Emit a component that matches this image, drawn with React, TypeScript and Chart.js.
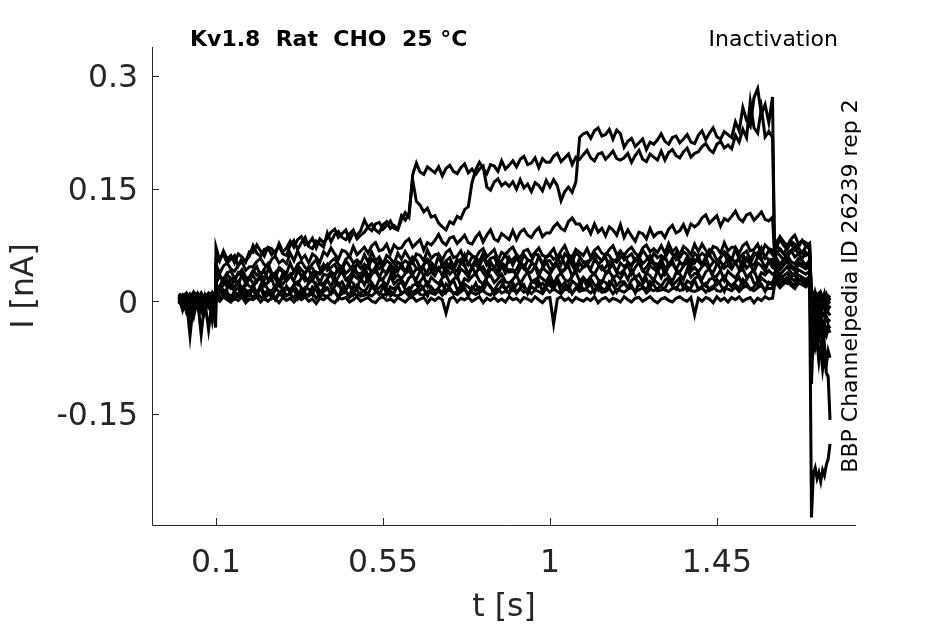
import { useEffect, useRef } from "react"
import Chart from "chart.js/auto"

// sample times [s]
const timeS = [
  0, 0.01, 0.02, 0.03, 0.04, 0.05, 0.06, 0.07, 0.08, 0.09, 0.099,
  0.1, 0.11, 0.12, 0.13, 0.14, 0.15, 0.16, 0.17, 0.18, 0.19,
  0.2, 0.21, 0.22, 0.23, 0.24, 0.25, 0.26, 0.27, 0.28, 0.29,
  0.3, 0.31, 0.32, 0.33, 0.34, 0.35, 0.36, 0.37, 0.38, 0.39,
  0.4, 0.41, 0.42, 0.43, 0.44, 0.45, 0.46, 0.47, 0.48, 0.49,
  0.5, 0.51, 0.52, 0.53, 0.54, 0.55, 0.56, 0.57, 0.58, 0.59,
  0.6, 0.61, 0.62, 0.63, 0.64, 0.65, 0.66, 0.67, 0.68, 0.69,
  0.7, 0.71, 0.72, 0.73, 0.74, 0.75, 0.76, 0.77, 0.78, 0.79,
  0.8, 0.81, 0.82, 0.83, 0.84, 0.85, 0.86, 0.87, 0.88, 0.89,
  0.9, 0.91, 0.92, 0.93, 0.94, 0.95, 0.96, 0.97, 0.98, 0.99,
  1.0, 1.01, 1.02, 1.03, 1.04, 1.05, 1.06, 1.07, 1.08, 1.09,
  1.1, 1.11, 1.12, 1.13, 1.14, 1.15, 1.16, 1.17, 1.18, 1.19,
  1.2, 1.21, 1.22, 1.23, 1.24, 1.25, 1.26, 1.27, 1.28, 1.29,
  1.3, 1.31, 1.32, 1.33, 1.34, 1.35, 1.36, 1.37, 1.38, 1.39,
  1.4, 1.41, 1.42, 1.43, 1.44, 1.45, 1.46, 1.47, 1.48, 1.49,
  1.5, 1.51, 1.52, 1.53, 1.54, 1.55, 1.56, 1.57, 1.58, 1.59,
  1.6,
  1.605, 1.61, 1.62, 1.63, 1.64, 1.65, 1.66, 1.67, 1.68, 1.69, 1.7,
  1.705, 1.71, 1.715, 1.72, 1.725, 1.73, 1.735, 1.74, 1.745, 1.75, 1.755,
]

// current traces [nA], one per sweep
const traceA = [
  0.010, 0.006, 0.011, 0.004, 0.012, 0.007, 0.010, 0.005, 0.011, 0.008, 0.009,
  0.072, 0.054, 0.067, 0.056, 0.061, 0.051, 0.063, 0.059, 0.052, 0.066,
  0.065, 0.075, 0.067, 0.060, 0.072, 0.070, 0.063, 0.077, 0.066, 0.071,
  0.080, 0.072, 0.082, 0.086, 0.075, 0.077, 0.084, 0.071, 0.083, 0.078,
  0.084, 0.092, 0.096, 0.085, 0.090, 0.095, 0.081, 0.091, 0.088, 0.094,
  0.108, 0.098, 0.094, 0.103, 0.105, 0.096, 0.101, 0.107, 0.097, 0.095,
  0.109, 0.118, 0.112, 0.168, 0.184, 0.172, 0.169, 0.179, 0.175, 0.171,
  0.179, 0.167, 0.177, 0.181, 0.173, 0.170, 0.178, 0.183, 0.171, 0.176,
  0.169, 0.176, 0.180, 0.152, 0.148, 0.159, 0.163, 0.154, 0.158, 0.153,
  0.159, 0.149, 0.162, 0.151, 0.156, 0.146, 0.158, 0.154, 0.147, 0.161,
  0.152, 0.162, 0.154, 0.134, 0.146, 0.152, 0.145, 0.159, 0.218, 0.223,
  0.225, 0.217, 0.227, 0.231, 0.220, 0.222, 0.229, 0.216, 0.228, 0.223,
  0.205, 0.213, 0.217, 0.206, 0.211, 0.216, 0.202, 0.212, 0.209, 0.215,
  0.223, 0.213, 0.209, 0.218, 0.220, 0.211, 0.216, 0.222, 0.212, 0.210,
  0.221, 0.227, 0.215, 0.224, 0.231, 0.219, 0.216, 0.226, 0.222, 0.218,
  0.239, 0.227, 0.258, 0.241, 0.233, 0.271, 0.283, 0.249, 0.262, 0.238,
  0.272,
  0.078, 0.071, 0.083, 0.074, 0.069, 0.080, 0.076, 0.072, 0.081, 0.073, 0.077,
  0.006, 0.010, 0.003, 0.009, 0.005, 0.011, 0.004, 0.008, 0.002, 0.007, 0.005,
]
const traceB = [
  0.004, 0.009, 0.002, 0.010, 0.005, 0.011, 0.003, 0.009, 0.006, 0.012, 0.004,
  0.050, 0.058, 0.062, 0.051, 0.056, 0.061, 0.047, 0.057, 0.054, 0.060,
  0.074, 0.064, 0.060, 0.069, 0.071, 0.062, 0.067, 0.073, 0.063, 0.061,
  0.075, 0.081, 0.069, 0.078, 0.085, 0.073, 0.070, 0.080, 0.076, 0.072,
  0.091, 0.079, 0.089, 0.093, 0.085, 0.082, 0.090, 0.095, 0.083, 0.088,
  0.092, 0.099, 0.103, 0.095, 0.091, 0.102, 0.106, 0.097, 0.101, 0.096,
  0.114, 0.108, 0.116, 0.162, 0.133, 0.128, 0.119, 0.124, 0.112, 0.114,
  0.104, 0.099, 0.095, 0.106, 0.103, 0.113, 0.110, 0.122, 0.126, 0.158,
  0.175, 0.185, 0.177, 0.170, 0.182, 0.180, 0.173, 0.187, 0.176, 0.181,
  0.187, 0.179, 0.189, 0.193, 0.182, 0.184, 0.191, 0.178, 0.190, 0.185,
  0.185, 0.193, 0.197, 0.186, 0.191, 0.196, 0.182, 0.192, 0.189, 0.195,
  0.201, 0.191, 0.187, 0.196, 0.198, 0.189, 0.194, 0.200, 0.190, 0.188,
  0.191, 0.197, 0.185, 0.194, 0.201, 0.189, 0.186, 0.196, 0.192, 0.188,
  0.200, 0.188, 0.198, 0.202, 0.194, 0.191, 0.199, 0.204, 0.192, 0.197,
  0.199, 0.206, 0.210, 0.202, 0.198, 0.209, 0.213, 0.204, 0.208, 0.203,
  0.221, 0.212, 0.229, 0.218, 0.266, 0.231, 0.224, 0.257, 0.219, 0.226,
  0.218,
  0.084, 0.077, 0.086, 0.079, 0.074, 0.083, 0.088, 0.076, 0.081, 0.078, 0.075,
  0.002, 0.008, -0.001, 0.006, 0.010, 0.001, 0.007, 0.003, 0.009, 0.000, 0.004,
]
const traceC = [
  0.001, -0.006, 0.003, -0.004, 0.002, -0.007, 0.004, -0.003, 0.001, -0.005, 0.002,
  0.049, 0.037, 0.047, 0.051, 0.043, 0.040, 0.048, 0.053, 0.041, 0.046,
  0.046, 0.053, 0.057, 0.049, 0.045, 0.056, 0.060, 0.051, 0.055, 0.050,
  0.064, 0.054, 0.067, 0.056, 0.061, 0.051, 0.063, 0.059, 0.052, 0.066,
  0.061, 0.071, 0.063, 0.056, 0.068, 0.066, 0.059, 0.073, 0.062, 0.067,
  0.072, 0.064, 0.074, 0.078, 0.067, 0.069, 0.076, 0.063, 0.075, 0.070,
  0.071, 0.079, 0.083, 0.072, 0.077, 0.082, 0.068, 0.078, 0.075, 0.081,
  0.089, 0.079, 0.075, 0.084, 0.086, 0.077, 0.082, 0.088, 0.078, 0.076,
  0.085, 0.091, 0.079, 0.088, 0.095, 0.083, 0.080, 0.090, 0.086, 0.082,
  0.094, 0.082, 0.092, 0.096, 0.088, 0.085, 0.093, 0.098, 0.086, 0.091,
  0.091, 0.099, 0.104, 0.097, 0.094, 0.106, 0.111, 0.103, 0.103, 0.095,
  0.100, 0.090, 0.103, 0.092, 0.097, 0.087, 0.099, 0.095, 0.088, 0.102,
  0.085, 0.095, 0.087, 0.080, 0.092, 0.090, 0.083, 0.097, 0.086, 0.091,
  0.092, 0.085, 0.096, 0.101, 0.091, 0.094, 0.102, 0.090, 0.103, 0.099,
  0.103, 0.111, 0.115, 0.104, 0.109, 0.114, 0.100, 0.110, 0.107, 0.113,
  0.120, 0.110, 0.106, 0.115, 0.117, 0.108, 0.113, 0.119, 0.109, 0.107,
  0.112,
  0.066, 0.074, 0.069, 0.063, 0.072, 0.077, 0.068, 0.071, 0.064, 0.073, 0.070,
  -0.004, 0.003, -0.008, 0.001, -0.005, 0.004, -0.002, -0.007, 0.002, -0.003, 0.000,
]
const traceD = [
  -0.002, 0.005, -0.008, 0.003, -0.004, 0.006, -0.009, 0.002, -0.005, 0.004, -0.003,
  0.043, 0.033, 0.029, 0.038, 0.040, 0.031, 0.036, 0.042, 0.032, 0.030,
  0.040, 0.046, 0.034, 0.043, 0.050, 0.038, 0.035, 0.045, 0.041, 0.037,
  0.051, 0.039, 0.049, 0.053, 0.045, 0.042, 0.050, 0.055, 0.043, 0.048,
  0.046, 0.053, 0.057, 0.049, 0.045, 0.056, 0.060, 0.051, 0.055, 0.050,
  0.062, 0.052, 0.065, 0.054, 0.059, 0.049, 0.061, 0.057, 0.050, 0.064,
  0.056, 0.066, 0.058, 0.051, 0.063, 0.061, 0.054, 0.068, 0.057, 0.062,
  0.063, 0.055, 0.065, 0.069, 0.058, 0.060, 0.067, 0.054, 0.066, 0.061,
  0.058, 0.066, 0.070, 0.059, 0.064, 0.069, 0.055, 0.065, 0.062, 0.068,
  0.072, 0.062, 0.058, 0.067, 0.069, 0.060, 0.065, 0.071, 0.061, 0.059,
  0.064, 0.070, 0.058, 0.067, 0.074, 0.062, 0.059, 0.069, 0.065, 0.061,
  0.070, 0.058, 0.068, 0.072, 0.064, 0.061, 0.069, 0.074, 0.062, 0.067,
  0.061, 0.068, 0.072, 0.064, 0.060, 0.071, 0.075, 0.066, 0.070, 0.065,
  0.074, 0.064, 0.077, 0.066, 0.071, 0.061, 0.073, 0.069, 0.062, 0.076,
  0.066, 0.076, 0.068, 0.061, 0.073, 0.071, 0.064, 0.078, 0.067, 0.072,
  0.072, 0.064, 0.074, 0.078, 0.067, 0.069, 0.076, 0.063, 0.075, 0.070,
  0.068,
  0.058, 0.066, 0.061, 0.055, 0.064, 0.068, 0.059, 0.063, 0.057, 0.065, 0.060,
  -0.010, -0.002, -0.014, -0.006, -0.001, -0.012, -0.005, -0.009, -0.003, -0.011, -0.006,
]
const traceE = [
  0.006, -0.012, 0.004, -0.046, 0.002, -0.010, 0.005, -0.015, 0.003, -0.008, 0.006,
  0.024, 0.034, 0.026, 0.019, 0.031, 0.029, 0.022, 0.036, 0.025, 0.030,
  0.034, 0.026, 0.036, 0.040, 0.029, 0.031, 0.038, 0.025, 0.037, 0.032,
  0.032, 0.040, 0.044, 0.033, 0.038, 0.043, 0.029, 0.039, 0.036, 0.042,
  0.049, 0.039, 0.035, 0.044, 0.046, 0.037, 0.042, 0.048, 0.038, 0.036,
  0.043, 0.049, 0.037, 0.046, 0.053, 0.041, 0.038, 0.048, 0.044, 0.040,
  0.050, 0.038, 0.048, 0.052, 0.044, 0.041, 0.049, 0.054, 0.042, 0.047,
  0.042, 0.049, 0.053, 0.045, 0.041, 0.052, 0.056, 0.047, 0.051, 0.046,
  0.056, 0.046, 0.059, 0.048, 0.053, 0.043, 0.055, 0.051, 0.044, 0.058,
  0.048, 0.058, 0.050, 0.043, 0.055, 0.053, 0.046, 0.060, 0.049, 0.054,
  0.054, 0.046, 0.056, 0.060, 0.049, 0.051, 0.058, 0.045, 0.057, 0.052,
  0.048, 0.056, 0.060, 0.049, 0.054, 0.059, 0.045, 0.055, 0.052, 0.058,
  0.062, 0.052, 0.048, 0.057, 0.059, 0.050, 0.055, 0.061, 0.051, 0.049,
  0.054, 0.060, 0.048, 0.057, 0.064, 0.052, 0.049, 0.059, 0.055, 0.051,
  0.060, 0.048, 0.058, 0.062, 0.054, 0.051, 0.059, 0.064, 0.052, 0.057,
  0.051, 0.058, 0.062, 0.054, 0.050, 0.061, 0.065, 0.056, 0.060, 0.055,
  0.056,
  0.052, 0.058, 0.049, 0.056, 0.061, 0.053, 0.050, 0.057, 0.054, 0.048, 0.055,
  -0.018, -0.008, -0.022, -0.012, -0.025, -0.010, -0.016, -0.020, -0.009, -0.015, -0.019,
]
const traceF = [
  -0.004, 0.002, -0.014, 0.001, -0.020, 0.003, -0.044, 0.000, -0.038, 0.002, -0.012,
  0.022, 0.014, 0.024, 0.028, 0.017, 0.019, 0.026, 0.013, 0.025, 0.020,
  0.019, 0.027, 0.031, 0.020, 0.025, 0.030, 0.016, 0.026, 0.023, 0.029,
  0.036, 0.026, 0.022, 0.031, 0.033, 0.024, 0.029, 0.035, 0.025, 0.023,
  0.030, 0.036, 0.024, 0.033, 0.040, 0.028, 0.025, 0.035, 0.031, 0.027,
  0.038, 0.026, 0.036, 0.040, 0.032, 0.029, 0.037, 0.042, 0.030, 0.035,
  0.030, 0.037, 0.041, 0.033, 0.029, 0.040, 0.044, 0.035, 0.039, 0.034,
  0.044, 0.034, 0.047, 0.036, 0.041, 0.031, 0.043, 0.039, 0.032, 0.046,
  0.036, 0.046, 0.038, 0.031, 0.043, 0.041, 0.034, 0.048, 0.037, 0.042,
  0.042, 0.034, 0.044, 0.048, 0.037, 0.039, 0.046, 0.033, 0.045, 0.040,
  0.036, 0.044, 0.048, 0.037, 0.042, 0.047, 0.033, 0.043, 0.040, 0.046,
  0.050, 0.040, 0.036, 0.045, 0.047, 0.038, 0.043, 0.049, 0.039, 0.037,
  0.042, 0.048, 0.036, 0.045, 0.052, 0.040, 0.037, 0.047, 0.043, 0.039,
  0.048, 0.036, 0.046, 0.050, 0.042, 0.039, 0.047, 0.052, 0.040, 0.045,
  0.039, 0.046, 0.050, 0.042, 0.038, 0.049, 0.053, 0.044, 0.048, 0.043,
  0.052, 0.042, 0.055, 0.044, 0.049, 0.039, 0.051, 0.047, 0.040, 0.054,
  0.045,
  0.044, 0.050, 0.042, 0.048, 0.053, 0.045, 0.041, 0.049, 0.046, 0.043, 0.047,
  -0.028, -0.015, -0.035, -0.022, -0.030, -0.018, -0.026, -0.033, -0.020, -0.027, -0.024,
]
const traceG = [
  0.008, 0.000, 0.009, -0.003, 0.007, 0.001, 0.010, -0.002, 0.008, 0.000, 0.007,
  0.014, 0.020, 0.008, 0.017, 0.024, 0.012, 0.009, 0.019, 0.015, 0.011,
  0.022, 0.010, 0.020, 0.024, 0.016, 0.013, 0.021, 0.026, 0.014, 0.019,
  0.015, 0.022, 0.026, 0.018, 0.014, 0.025, 0.029, 0.020, 0.024, 0.019,
  0.029, 0.019, 0.032, 0.021, 0.026, 0.016, 0.028, 0.024, 0.017, 0.031,
  0.022, 0.032, 0.024, 0.017, 0.029, 0.027, 0.020, 0.034, 0.023, 0.028,
  0.029, 0.021, 0.031, 0.035, 0.024, 0.026, 0.033, 0.020, 0.032, 0.027,
  0.023, 0.031, 0.035, 0.024, 0.029, 0.034, 0.020, 0.030, 0.027, 0.033,
  0.037, 0.027, 0.023, 0.032, 0.034, 0.025, 0.030, 0.036, 0.026, 0.024,
  0.029, 0.035, 0.023, 0.032, 0.039, 0.027, 0.024, 0.034, 0.030, 0.026,
  0.035, 0.023, 0.033, 0.037, 0.029, 0.026, 0.034, 0.039, 0.027, 0.032,
  0.026, 0.033, 0.037, 0.029, 0.025, 0.036, 0.040, 0.031, 0.035, 0.030,
  0.039, 0.029, 0.042, 0.031, 0.036, 0.026, 0.038, 0.034, 0.027, 0.041,
  0.031, 0.041, 0.033, 0.026, 0.038, 0.036, 0.029, 0.043, 0.032, 0.037,
  0.037, 0.029, 0.039, 0.043, 0.032, 0.034, 0.041, 0.028, 0.040, 0.035,
  0.031, 0.039, 0.043, 0.032, 0.037, 0.042, 0.028, 0.038, 0.035, 0.041,
  0.036,
  0.037, 0.043, 0.035, 0.041, 0.046, 0.038, 0.034, 0.042, 0.039, 0.036, 0.040,
  -0.045, -0.030, -0.052, -0.038, -0.048, -0.035, -0.055, -0.040, -0.046, -0.036, -0.042,
]
const traceH = [
  -0.001, 0.006, -0.011, 0.005, -0.006, 0.008, -0.013, 0.004, -0.007, 0.007, -0.016,
  0.004, 0.011, 0.015, 0.007, 0.003, 0.014, 0.018, 0.009, 0.013, 0.008,
  0.018, 0.008, 0.021, 0.010, 0.015, 0.005, 0.017, 0.013, 0.006, 0.020,
  0.011, 0.021, 0.013, 0.006, 0.018, 0.016, 0.009, 0.023, 0.012, 0.017,
  0.018, 0.010, 0.020, 0.024, 0.013, 0.015, 0.022, 0.009, 0.021, 0.016,
  0.012, 0.020, 0.024, 0.013, 0.018, 0.023, 0.009, 0.019, 0.016, 0.022,
  0.026, 0.016, 0.012, 0.021, 0.023, 0.014, 0.019, 0.025, 0.015, 0.013,
  0.018, 0.024, 0.012, 0.021, 0.028, 0.016, 0.013, 0.023, 0.019, 0.015,
  0.024, 0.012, 0.022, 0.026, 0.018, 0.015, 0.023, 0.028, 0.016, 0.021,
  0.015, 0.022, 0.026, 0.018, 0.014, 0.025, 0.029, 0.020, 0.024, 0.019,
  0.028, 0.018, 0.031, 0.020, 0.025, 0.015, 0.027, 0.023, 0.016, 0.030,
  0.020, 0.030, 0.022, 0.015, 0.027, 0.025, 0.018, 0.032, 0.021, 0.026,
  0.026, 0.018, 0.028, 0.032, 0.021, 0.023, 0.030, 0.017, 0.029, 0.024,
  0.020, 0.028, 0.032, 0.021, 0.026, 0.031, 0.017, 0.027, 0.024, 0.030,
  0.034, 0.024, 0.020, 0.029, 0.031, 0.022, 0.027, 0.033, 0.023, 0.021,
  0.026, 0.032, 0.020, 0.029, 0.036, 0.024, 0.021, 0.031, 0.027, 0.023,
  0.026,
  0.030, 0.036, 0.028, 0.034, 0.038, 0.031, 0.027, 0.035, 0.032, 0.029, 0.033,
  -0.070, -0.048, -0.062, -0.055, -0.080, -0.060, -0.072, -0.058, -0.085, -0.066, -0.075,
]
const traceI = [
  0.003, -0.009, 0.006, -0.018, 0.004, -0.005, 0.007, -0.011, 0.005, -0.026, 0.003,
  0.009, 0.004, 0.010, 0.005, 0.008, 0.003, 0.009, 0.006, 0.003, 0.010,
  0.005, 0.011, 0.006, 0.003, 0.009, 0.008, 0.004, 0.011, 0.006, 0.008,
  0.009, 0.005, 0.010, 0.012, 0.006, 0.007, 0.011, 0.004, 0.010, 0.008,
  0.006, 0.011, 0.012, 0.007, 0.010, 0.012, 0.005, 0.010, 0.008, 0.011,
  0.014, 0.009, 0.007, 0.012, 0.012, 0.008, 0.010, 0.014, 0.008, 0.007,
  0.010, 0.013, 0.007, 0.012, 0.015, 0.009, 0.008, 0.013, 0.011, 0.009,
  0.014, 0.008, 0.013, 0.015, 0.011, 0.009, 0.013, 0.016, 0.010, 0.012,
  0.009, 0.012, 0.014, 0.010, 0.008, 0.014, 0.016, 0.011, 0.013, 0.011,
  0.016, 0.011, 0.017, 0.012, 0.014, 0.010, 0.015, 0.013, 0.010, 0.017,
  0.012, 0.017, 0.013, 0.010, 0.016, 0.015, 0.011, 0.018, 0.013, 0.015,
  0.015, 0.011, 0.016, 0.018, 0.012, 0.013, 0.017, 0.010, 0.016, 0.014,
  0.012, 0.016, 0.018, 0.013, 0.015, 0.018, 0.011, 0.016, 0.014, 0.017,
  0.020, 0.015, 0.013, 0.017, 0.018, 0.014, 0.016, 0.019, 0.014, 0.013,
  0.015, 0.018, 0.012, 0.017, 0.020, 0.014, 0.013, 0.018, 0.016, 0.014,
  0.019, 0.013, 0.018, 0.020, 0.016, 0.014, 0.018, 0.021, 0.015, 0.017,
  0.017,
  0.024, 0.030, 0.022, 0.028, 0.032, 0.025, 0.021, 0.029, 0.026, 0.023, 0.027,
  -0.110, -0.040, -0.060, -0.045, -0.075, -0.065, -0.090, -0.070, -0.095, -0.100, -0.158,
]
const traceJ = [
  0.007, 0.002, 0.010, -0.001, 0.008, 0.003, 0.011, 0.001, 0.009, 0.004, -0.035,
  0.005, 0.000, 0.006, 0.002, -0.001, 0.004, 0.001, 0.006, -0.002, 0.003,
  0.002, 0.006, -0.001, 0.004, 0.000, 0.005, 0.003, -0.002, 0.005, 0.001,
  0.004, -0.001, 0.005, 0.002, 0.006, 0.000, 0.003, -0.003, 0.004, 0.002,
  0.006, 0.001, -0.002, 0.004, 0.003, 0.005, -0.001, 0.002, 0.006, 0.000,
  0.003, 0.005, 0.000, -0.002, 0.004, 0.006, 0.001, 0.003, -0.001, 0.005,
  0.002, -0.001, 0.004, 0.006, 0.000, 0.003, 0.005, -0.002, 0.004, 0.001,
  0.005, 0.002, -0.016, 0.003, 0.006, -0.001, 0.004, 0.002, 0.005, 0.000,
  0.003, 0.006, -0.002, 0.004, 0.001, 0.005, 0.000, 0.003, -0.001, 0.006,
  0.002, 0.004, -0.001, 0.005, 0.003, 0.000, 0.006, 0.002, -0.002, 0.004,
  0.005, -0.030, 0.003, 0.006, 0.001, 0.004, -0.001, 0.005, 0.002, 0.000,
  0.004, 0.001, 0.006, -0.002, 0.003, 0.005, 0.000, 0.004, 0.002, -0.001,
  0.006, 0.002, -0.001, 0.004, 0.005, 0.000, 0.003, 0.006, 0.001, -0.002,
  0.003, 0.005, 0.001, -0.001, 0.004, 0.006, 0.002, 0.000, 0.005, -0.018,
  0.004, 0.000, 0.005, 0.003, -0.002, 0.006, 0.001, 0.004, -0.001, 0.005,
  0.002, 0.006, 0.000, 0.003, 0.005, -0.002, 0.004, 0.001, 0.006, 0.003,
  0.004,
  0.020, 0.025, 0.018, 0.023, 0.027, 0.021, 0.017, 0.024, 0.022, 0.019, 0.023,
  -0.288, -0.230, -0.222, -0.236, -0.228, -0.240, -0.225, -0.232, -0.218, -0.210, -0.190,
]
const traceK = [
  0.005, -0.003, 0.008, 0.001, -0.010, 0.006, 0.002, -0.004, 0.009, 0.000, 0.005,
  0.016, 0.002, 0.009, 0.013, 0.001, 0.011, 0.006, 0.017, 0.004, 0.014,
  0.013, 0.008, 0.019, 0.005, 0.012, 0.014, 0.002, 0.009, 0.017, 0.007,
  0.011, 0.016, 0.004, 0.017, 0.010, 0.008, 0.019, 0.015, 0.005, 0.013,
  0.017, 0.011, 0.014, 0.004, 0.018, 0.013, 0.008, 0.019, 0.015, 0.007,
  0.008, 0.010, 0.020, 0.014, 0.009, 0.018, 0.016, 0.007, 0.011, 0.021,
  0.010, 0.014, 0.018, 0.008, 0.011, 0.023, 0.016, 0.007, 0.019, 0.013,
  0.016, 0.011, 0.023, 0.018, 0.010, 0.013, 0.021, 0.017, 0.007, 0.019,
  0.014, 0.019, 0.015, 0.024, 0.020, 0.009, 0.013, 0.021, 0.017, 0.010,
  0.025, 0.011, 0.018, 0.022, 0.010, 0.020, 0.015, 0.026, 0.013, 0.023,
  0.021, 0.016, 0.027, 0.013, 0.020, 0.022, 0.010, 0.017, 0.025, 0.015,
  0.018, 0.023, 0.011, 0.024, 0.017, 0.015, 0.026, 0.022, 0.012, 0.020,
  0.024, 0.018, 0.021, 0.011, 0.025, 0.020, 0.015, 0.026, 0.022, 0.014,
  0.015, 0.017, 0.027, 0.021, 0.016, 0.025, 0.023, 0.014, 0.018, 0.028,
  0.016, 0.020, 0.024, 0.014, 0.017, 0.029, 0.022, 0.013, 0.025, 0.019,
  0.022, 0.017, 0.029, 0.024, 0.016, 0.019, 0.027, 0.023, 0.013, 0.025,
  0.021,
  0.033, 0.027, 0.035, 0.029, 0.024, 0.032, 0.037, 0.028, 0.031, 0.026, 0.030,
  -0.008, 0.002, -0.012, -0.004, -0.015, -0.006, -0.010, -0.003, -0.013, -0.007, -0.009,
]
const traceL = [
  -0.003, 0.007, -0.002, 0.005, -0.008, 0.004, -0.001, 0.008, -0.006, 0.003, -0.002,
  0.018, 0.020, 0.030, 0.024, 0.019, 0.028, 0.026, 0.017, 0.021, 0.031,
  0.024, 0.028, 0.032, 0.022, 0.025, 0.037, 0.030, 0.021, 0.033, 0.027,
  0.033, 0.028, 0.040, 0.035, 0.027, 0.030, 0.038, 0.034, 0.024, 0.036,
  0.034, 0.039, 0.035, 0.044, 0.040, 0.029, 0.033, 0.041, 0.037, 0.030,
  0.047, 0.033, 0.040, 0.044, 0.032, 0.042, 0.037, 0.048, 0.035, 0.045,
  0.044, 0.039, 0.050, 0.036, 0.043, 0.045, 0.033, 0.040, 0.048, 0.038,
  0.043, 0.048, 0.036, 0.049, 0.042, 0.040, 0.051, 0.047, 0.037, 0.045,
  0.049, 0.043, 0.046, 0.036, 0.050, 0.045, 0.040, 0.051, 0.047, 0.039,
  0.040, 0.042, 0.052, 0.046, 0.041, 0.050, 0.048, 0.039, 0.043, 0.053,
  0.042, 0.046, 0.050, 0.040, 0.043, 0.055, 0.048, 0.039, 0.051, 0.045,
  0.048, 0.043, 0.055, 0.050, 0.042, 0.045, 0.053, 0.049, 0.039, 0.051,
  0.046, 0.051, 0.047, 0.056, 0.052, 0.041, 0.045, 0.053, 0.049, 0.042,
  0.057, 0.043, 0.050, 0.054, 0.042, 0.052, 0.047, 0.058, 0.045, 0.055,
  0.053, 0.048, 0.059, 0.045, 0.052, 0.054, 0.042, 0.049, 0.057, 0.047,
  0.051, 0.056, 0.044, 0.057, 0.050, 0.048, 0.059, 0.055, 0.045, 0.053,
  0.051,
  0.047, 0.053, 0.045, 0.051, 0.056, 0.048, 0.044, 0.052, 0.049, 0.046, 0.050,
  -0.035, -0.020, -0.040, -0.028, -0.045, -0.025, -0.038, -0.030, -0.042, -0.032, -0.036,
]
const traceM = [
  0.009, -0.002, 0.006, -0.007, 0.011, 0.001, -0.004, 0.007, -0.001, 0.010, 0.002,
  0.030, 0.035, 0.023, 0.036, 0.029, 0.027, 0.038, 0.034, 0.024, 0.032,
  0.041, 0.035, 0.038, 0.028, 0.042, 0.037, 0.032, 0.043, 0.039, 0.031,
  0.036, 0.038, 0.048, 0.042, 0.037, 0.046, 0.044, 0.035, 0.039, 0.049,
  0.041, 0.045, 0.049, 0.039, 0.042, 0.054, 0.047, 0.038, 0.050, 0.044,
  0.049, 0.044, 0.056, 0.051, 0.043, 0.046, 0.054, 0.050, 0.040, 0.052,
  0.049, 0.054, 0.050, 0.059, 0.055, 0.044, 0.048, 0.056, 0.052, 0.045,
  0.061, 0.047, 0.054, 0.058, 0.046, 0.056, 0.051, 0.062, 0.049, 0.059,
  0.058, 0.053, 0.064, 0.050, 0.057, 0.059, 0.047, 0.054, 0.062, 0.052,
  0.056, 0.061, 0.049, 0.062, 0.055, 0.053, 0.064, 0.060, 0.050, 0.058,
  0.062, 0.056, 0.059, 0.049, 0.063, 0.058, 0.053, 0.064, 0.060, 0.052,
  0.053, 0.055, 0.065, 0.059, 0.054, 0.063, 0.061, 0.052, 0.056, 0.066,
  0.055, 0.059, 0.063, 0.053, 0.056, 0.068, 0.061, 0.052, 0.064, 0.058,
  0.061, 0.056, 0.068, 0.063, 0.055, 0.058, 0.066, 0.062, 0.052, 0.064,
  0.059, 0.064, 0.060, 0.069, 0.065, 0.054, 0.058, 0.066, 0.062, 0.055,
  0.070, 0.056, 0.063, 0.067, 0.055, 0.065, 0.060, 0.071, 0.058, 0.068,
  0.062,
  0.068, 0.062, 0.070, 0.064, 0.059, 0.067, 0.072, 0.063, 0.066, 0.061, 0.065,
  0.008, -0.002, 0.012, 0.003, -0.004, 0.009, 0.001, 0.010, -0.003, 0.006, 0.002,
]

const traces = [
  traceA, traceB, traceC, traceD, traceE, traceF, traceG,
  traceH, traceI, traceJ, traceK, traceL, traceM,
]

const xTicks = [0.1, 0.55, 1, 1.45]
const xTickLabels = ["0.1", "0.55", "1", "1.45"]
const yTicks = [-0.15, 0, 0.15, 0.3]
const yTickLabels = ["-0.15", "0", "0.15", "0.3"]

const titleText = "Kv1.8  Rat  CHO  25 °C"
const protocolText = "Inactivation"
const sourceText = "BBP Channelpedia ID 26239 rep 2"
const xTitle = "t [s]"
const yTitle = "I [nA]"

const AXIS_COLOR = "#262626"
const FONT = "'DejaVu Sans', sans-serif"

// matlab-like axes: left/bottom lines, inward ticks, labels and annotations
const axesPlugin = {
  id: "matlabAxes",
  afterDraw(chart: any) {
    const { ctx, chartArea, scales } = chart
    const { left, right, top, bottom } = chartArea
    ctx.save()
    ctx.strokeStyle = AXIS_COLOR
    ctx.lineWidth = 1
    ctx.beginPath()
    ctx.moveTo(left + 0.5, top)
    ctx.lineTo(left + 0.5, bottom + 0.5)
    ctx.lineTo(right, bottom + 0.5)
    xTicks.forEach((v) => {
      const px = Math.round(scales.x.getPixelForValue(v)) + 0.5
      ctx.moveTo(px, bottom)
      ctx.lineTo(px, bottom - 7)
    })
    yTicks.forEach((v) => {
      const py = Math.round(scales.y.getPixelForValue(v)) + 0.5
      ctx.moveTo(left, py)
      ctx.lineTo(left + 7, py)
    })
    ctx.stroke()

    ctx.fillStyle = AXIS_COLOR
    ctx.font = `31.5px ${FONT}`
    ctx.textBaseline = "alphabetic"
    ctx.textAlign = "center"
    xTicks.forEach((v, i) => {
      ctx.fillText(xTickLabels[i], scales.x.getPixelForValue(v), bottom + 47)
    })
    ctx.textAlign = "right"
    yTicks.forEach((v, i) => {
      ctx.fillText(yTickLabels[i], left - 14, scales.y.getPixelForValue(v) + 11.5)
    })

    ctx.textAlign = "center"
    ctx.fillText(xTitle, (left + right) / 2, bottom + 91)
    ctx.save()
    ctx.translate(33, (top + bottom) / 2)
    ctx.rotate(-Math.PI / 2)
    ctx.fillText(yTitle, 0, 0)
    ctx.restore()

    ctx.fillStyle = "#000"
    ctx.font = `bold 22px ${FONT}`
    ctx.textAlign = "left"
    ctx.fillText(titleText, 190, top - 1)
    ctx.font = `22px ${FONT}`
    ctx.textAlign = "right"
    ctx.fillText(protocolText, 838, top - 1)
    ctx.save()
    ctx.translate(857, (top + bottom) / 2)
    ctx.rotate(-Math.PI / 2)
    ctx.textAlign = "center"
    ctx.fillText(sourceText, 0, 0)
    ctx.restore()
    ctx.restore()
  },
}

function CurrentTracesChart() {
  const chartRef = useRef<HTMLCanvasElement>(null)
  const chartInstance = useRef<Chart | null>(null)

  useEffect(() => {
    if (!chartRef.current) return
    if (chartInstance.current) chartInstance.current.destroy()

    const ctx = chartRef.current.getContext("2d")
    if (!ctx) return

    chartInstance.current = new Chart(ctx, {
      type: "line",
      data: {
        datasets: traces.map((trace, n) => ({
          label: `sweep ${n + 1}`,
          data: timeS.map((t, i) => ({ x: t, y: trace[i] })),
          borderColor: "#000000",
          borderWidth: 3,
          borderJoinStyle: "miter" as const,
          pointRadius: 0,
          tension: 0,
          fill: false,
        })),
      },
      options: {
        animation: false,
        responsive: false,
        events: [],
        layout: { padding: { left: 152, right: 89, top: 47, bottom: 99 } },
        scales: {
          x: { type: "linear", min: -0.0725, max: 1.825, display: false },
          y: { type: "linear", min: -0.298, max: 0.3386, display: false },
        },
        plugins: {
          legend: { display: false },
          tooltip: { enabled: false },
        },
      },
      plugins: [axesPlugin],
    })

    return () => {
      if (chartInstance.current) {
        chartInstance.current.destroy()
        chartInstance.current = null
      }
    }
  }, [])

  return <canvas ref={chartRef} width={945} height={624}></canvas>
}

export default function App() {
  return (
    <div style={{ position: "fixed", left: 0, top: 0, width: 945, height: 624, background: "#ffffff" }}>
      <CurrentTracesChart />
    </div>
  )
}
